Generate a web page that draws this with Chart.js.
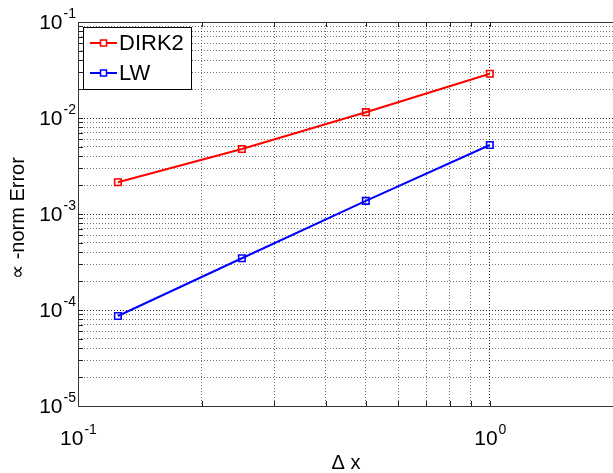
<!DOCTYPE html>
<html>
<head>
<meta charset="utf-8">
<script src="https://cdn.jsdelivr.net/npm/chart.js@4/dist/chart.umd.min.js"></script>
<style>
  html, body { margin: 0; padding: 0; background: #fff; overflow: hidden; }
  #wrap { width: 613px; height: 473px; overflow: hidden; position: relative; }
  canvas { display: block; }
</style>
</head>
<body>
<div id="wrap"><canvas id="c" width="620" height="473"></canvas></div>
<script>
// Convergence data: grid spacing vs. error
const stepSizes  = [0.125, 0.25, 0.5, 1];
const dirk2Error = [2.14e-3, 4.75e-3, 1.15e-2, 2.89e-2];
const lwError    = [8.66e-5, 3.46e-4, 1.37e-3, 5.23e-3];
const seriesNames = ['DIRK2', 'LW'];

// Axis limits and decade labels (base 10, exponent shown as superscript)
const xLimits = [0.1, 2];
const yLimits = [1e-5, 1e-1];
const xTickExponents = ['-1', '0'];
const yTickExponents = ['-5', '-4', '-3', '-2', '-1'];
const xTitle = 'Δ x';
const yTitle = '∝ -norm Error';

const FONT = '"Liberation Sans", Arial, Helvetica, sans-serif';

// 1..9 x 10^n positions inside the limits, used for grid lines
function logGrid(lo, hi) {
  const out = [];
  for (let e = Math.floor(Math.log10(lo)); e <= Math.ceil(Math.log10(hi)); e++) {
    for (let m = 1; m <= 9; m++) {
      const v = m * Math.pow(10, e);
      if (v >= lo * 0.9999 && v <= hi * 1.0001) out.push(v);
    }
  }
  return out;
}
const isDecade = v => Math.abs(Math.log10(v) - Math.round(Math.log10(v))) < 1e-9;

const gridColor = ctx => (ctx.tick && isDecade(ctx.tick.value)) ? 'rgba(0,0,0,0.85)' : 'rgba(0,0,0,0.55)';

function draw10(ctx, x, y, exp, align) {
  // "10" with a raised exponent
  ctx.font = '21px ' + FONT;
  const wBase = ctx.measureText('10').width;
  ctx.font = '14px ' + FONT;
  const wExp = ctx.measureText(exp).width;
  let left;
  if (align === 'center') left = x - (wBase + wExp) / 2;
  else left = x - (wBase + wExp);
  ctx.textAlign = 'left';
  ctx.textBaseline = 'alphabetic';
  ctx.font = '21px ' + FONT;
  ctx.fillText('10', left, y);
  ctx.font = '14px ' + FONT;
  ctx.fillText(exp, left + wBase + 1, y - 11);
}

const axesDecor = {
  id: 'axesDecor',
  afterDatasetsDraw(chart) {
    const { ctx, chartArea: a, scales } = chart;
    const xs = scales.x, ys = scales.y;
    ctx.save();
    // inward tick marks on the bottom, top and left edges
    ctx.strokeStyle = '#222';
    ctx.lineWidth = 1;
    ctx.beginPath();
    logGrid(xLimits[0], xLimits[1]).forEach(v => {
      const px = Math.round(xs.getPixelForValue(v)) + 0.5;
      ctx.moveTo(px, a.bottom); ctx.lineTo(px, a.bottom - 5);
      ctx.moveTo(px, a.top); ctx.lineTo(px, a.top + 5);
    });
    logGrid(yLimits[0], yLimits[1]).forEach(v => {
      const py = Math.round(ys.getPixelForValue(v)) + 0.5;
      ctx.moveTo(a.left, py); ctx.lineTo(a.left + 5, py);
    });
    ctx.stroke();
    // axes box
    ctx.strokeStyle = '#333';
    ctx.strokeRect(Math.round(a.left) + 0.5, Math.round(a.top) + 0.5,
                   Math.round(a.right - a.left), Math.round(a.bottom - a.top));
    ctx.restore();
  },
  afterDraw(chart) {
    const { ctx, chartArea: a, scales } = chart;
    const xs = scales.x, ys = scales.y;
    ctx.save();
    ctx.fillStyle = '#000';
    // tick labels
    xTickExponents.forEach(e => {
      const v = Math.pow(10, Number(e));
      draw10(ctx, xs.getPixelForValue(v), a.bottom + 39, e, 'center');
    });
    yTickExponents.forEach(e => {
      const v = Math.pow(10, Number(e));
      draw10(ctx, a.left - 3, ys.getPixelForValue(v) + 7, e, 'right');
    });
    // axis titles
    ctx.font = '20px ' + FONT;
    ctx.textAlign = 'center';
    ctx.textBaseline = 'middle';
    ctx.fillText(xTitle, 346, 463);
    ctx.translate(18, 218);
    ctx.rotate(-Math.PI / 2);
    ctx.fillText(yTitle, 0, 0);
    ctx.restore();

    // legend
    ctx.save();
    const L = { x: 83.5, y: 27.5, w: 108, h: 62 };
    ctx.fillStyle = '#fff';
    ctx.fillRect(L.x, L.y, L.w, L.h);
    ctx.strokeStyle = '#000';
    ctx.lineWidth = 1;
    ctx.strokeRect(L.x, L.y, L.w, L.h);
    chart.data.datasets.forEach((ds, i) => {
      const cy = 43 + i * 30;
      ctx.strokeStyle = ds.borderColor;
      ctx.lineWidth = 2;
      ctx.beginPath();
      ctx.moveTo(90, cy); ctx.lineTo(117, cy);
      ctx.stroke();
      ctx.lineWidth = 1.5;
      ctx.fillStyle = '#fff';
      ctx.fillRect(100.5, cy - 3, 6, 6);
      ctx.strokeRect(100.5, cy - 3, 6, 6);
      ctx.fillStyle = '#000';
      ctx.font = '22px ' + FONT;
      ctx.textAlign = 'left';
      ctx.textBaseline = 'middle';
      ctx.fillText(ds.label, 119, cy + 1);
    });
    ctx.restore();
  }
};

const toPoints = ys => stepSizes.map((x, i) => ({ x, y: ys[i] }));

new Chart(document.getElementById('c'), {
  type: 'line',
  data: {
    datasets: [
      { label: seriesNames[0], data: toPoints(dirk2Error), borderColor: '#ff0000' },
      { label: seriesNames[1], data: toPoints(lwError), borderColor: '#0000ff' }
    ].map(d => Object.assign(d, {
      borderWidth: 2,
      pointStyle: 'rect',
      pointRadius: 4.6,
      pointBorderWidth: 1.6,
      pointBorderColor: d.borderColor,
      pointBackgroundColor: 'rgba(255,255,255,0)',
      tension: 0,
      fill: false
    }))
  },
  options: {
    responsive: false,
    animation: false,
    events: [],
    layout: { padding: { left: 78, top: 22, right: 4, bottom: 67 } },
    plugins: { legend: { display: false }, tooltip: { enabled: false } },
    scales: {
      x: {
        type: 'logarithmic',
        min: xLimits[0], max: xLimits[1],
        afterBuildTicks: s => { s.ticks = logGrid(xLimits[0], xLimits[1]).map(v => ({ value: v })); },
        afterFit: s => { s.height = 0; },
        ticks: { display: false },
        grid: { color: gridColor, lineWidth: 1, drawTicks: false },
        border: { display: false, dash: [1, 2] }
      },
      y: {
        type: 'logarithmic',
        min: yLimits[0], max: yLimits[1],
        afterBuildTicks: s => { s.ticks = logGrid(yLimits[0], yLimits[1]).map(v => ({ value: v })); },
        afterFit: s => { s.width = 0; },
        ticks: { display: false },
        grid: { color: gridColor, lineWidth: 1, drawTicks: false },
        border: { display: false, dash: [1, 2] }
      }
    }
  },
  plugins: [axesDecor]
});
</script>
</body>
</html>
